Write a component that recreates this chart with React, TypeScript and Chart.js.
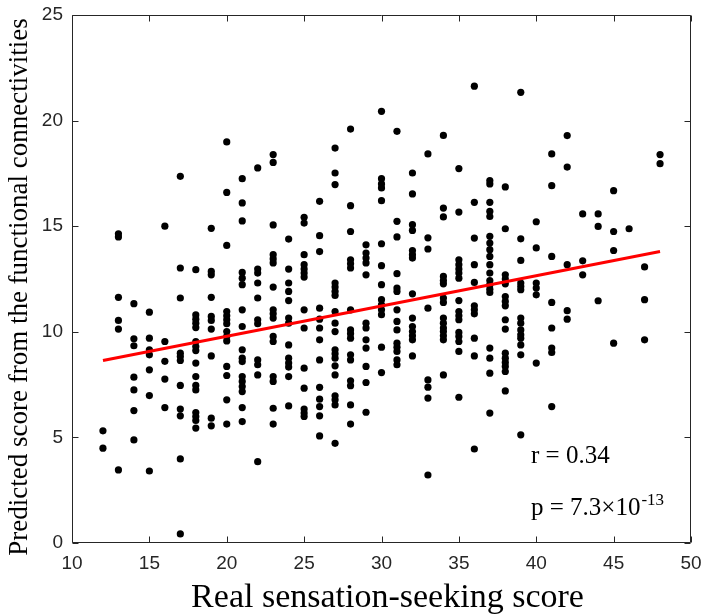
import React, { useEffect, useRef } from "react";
import { Chart, registerables } from "chart.js";

Chart.register(...registerables);

// Real sensation-seeking scores (x) and the predicted scores observed at each one (y)
const realScores = [12, 13, 14, 15, 16, 17, 18, 19, 20, 21, 22, 23, 24, 25, 26, 27, 28, 29, 30, 31, 32, 33, 34, 35, 36, 37, 38, 39, 40, 41, 42, 43, 44, 45, 46, 47, 48];
const predictedScores: number[][] = [
  [5.31, 4.49],
  [14.64, 14.49, 11.63, 10.54, 10.13, 3.46],
  [11.33, 9.67, 9.34, 7.85, 7.25, 6.27, 4.88],
  [10.93, 9.7, 9.15, 8.91, 8.2, 6.98, 3.41],
  [15.0, 9.54, 8.6, 7.76, 6.41],
  [17.36, 13.02, 11.6, 8.99, 8.83, 8.64, 7.46, 6.34, 6.02, 3.98, 0.43],
  [12.94, 10.8, 10.6, 10.41, 10.2, 9.54, 9.3, 9.11, 8.52, 7.88, 7.46, 7.25, 6.18, 5.99, 5.8, 5.44],
  [14.9, 12.86, 12.7, 11.63, 10.73, 10.54, 10.13, 8.86, 5.91, 5.55],
  [18.99, 16.6, 14.09, 10.96, 10.76, 10.57, 10.38, 10.01, 9.78, 9.57, 8.36, 7.93, 6.78, 5.63],
  [17.25, 16.1, 15.25, 12.81, 12.54, 12.23, 11.04, 10.25, 9.15, 8.75, 8.59, 7.88, 7.65, 7.41, 7.17, 6.41, 5.75],
  [17.76, 12.97, 12.78, 12.31, 11.6, 10.57, 10.38, 8.67, 8.44, 7.96, 3.85],
  [18.39, 18.02, 15.06, 13.65, 13.45, 13.26, 12.12, 11.04, 10.85, 10.65, 9.78, 9.54, 7.88, 7.65, 6.38, 5.63],
  [14.39, 12.97, 12.31, 11.91, 11.48, 10.65, 10.41, 9.38, 8.75, 8.52, 8.33, 7.88, 6.49],
  [15.42, 15.15, 13.65, 13.18, 12.97, 12.78, 12.59, 11.04, 10.18, 8.28, 7.33, 6.34, 6.15, 5.99],
  [16.18, 14.55, 13.8, 11.12, 10.6, 10.18, 9.62, 8.67, 7.37, 6.81, 6.46, 6.02, 5.07],
  [18.7, 17.52, 16.97, 12.31, 12.12, 11.91, 11.72, 10.96, 10.41, 10.01, 9.15, 8.96, 8.75, 8.39, 7.96, 6.97, 6.78, 6.54, 4.72],
  [19.6, 15.97, 14.75, 13.41, 13.22, 13.02, 11.04, 10.09, 9.91, 9.7, 8.91, 8.67, 7.68, 7.45, 6.54, 5.63],
  [14.12, 13.73, 13.49, 13.26, 12.7, 10.41, 10.18, 9.62, 9.23, 8.36, 7.6, 6.19],
  [20.44, 17.25, 17.0, 16.81, 16.21, 14.17, 13.13, 12.23, 11.52, 11.28, 11.04, 10.81, 9.27, 8.07],
  [19.49, 15.23, 14.49, 12.75, 12.07, 11.91, 11.04, 10.49, 10.09, 9.46, 9.27, 9.07, 8.67, 8.44],
  [17.52, 16.53, 15.07, 14.8, 13.85, 13.65, 13.49, 11.8, 10.65, 10.25, 10.01, 9.81, 9.62, 8.86],
  [18.42, 14.45, 13.92, 11.12, 7.72, 7.38, 6.86, 3.22],
  [19.3, 15.86, 15.44, 12.62, 12.43, 12.27, 11.6, 11.39, 10.65, 10.41, 10.18, 10.01, 9.81, 9.62, 7.96],
  [17.73, 15.67, 13.41, 13.18, 12.97, 12.78, 12.54, 11.48, 10.96, 10.76, 10.57, 9.97, 9.78, 9.54, 9.07, 6.9],
  [21.63, 16.13, 14.44, 13.18, 12.34, 11.23, 11.04, 10.85, 9.7, 8.86, 4.45],
  [17.16, 17.0, 16.13, 15.7, 15.46, 14.52, 14.2, 13.89, 13.57, 13.18, 12.78, 12.43, 12.23, 12.02, 11.86, 9.23, 8.75, 8.04, 6.15],
  [16.86, 14.88, 12.7, 12.5, 12.27, 11.67, 11.44, 11.23, 10.57, 10.13, 8.99, 8.75, 8.55, 8.36, 8.12, 7.2],
  [21.34, 14.4, 13.38, 12.31, 12.15, 11.99, 10.65, 10.41, 10.09, 9.86, 9.7, 9.38, 8.91, 5.12],
  [15.21, 13.97, 12.31, 12.07, 11.75, 8.52],
  [18.42, 16.92, 13.57, 11.39, 10.18, 9.23, 9.02, 6.46],
  [19.29, 17.8, 13.18, 11.0, 10.6],
  [15.58, 13.36, 12.7],
  [15.58, 14.99, 11.47],
  [16.68, 14.75, 13.85, 9.46],
  [14.88],
  [13.07, 11.52, 9.62],
  [18.39, 17.96],
];

// Regression line end points
const fitX = [12, 48];
const fitY = [8.64, 13.8];

// Axis ticks
const xTicks = [10, 15, 20, 25, 30, 35, 40, 45, 50];
const yTicks = [0, 5, 10, 15, 20, 25];

// Texts
const xTitle = "Real sensation-seeking score";
const yTitle = "Predicted score from the functional connectivities";
const rText = "r = 0.34";
const pText = "p = 7.3×10";
const pExponent = "-13";

const AXIS_COLOR = "#262626";

const framePlugin = {
  id: "matlabFrame",
  afterDraw(chart: any) {
    const { ctx, chartArea } = chart;
    const { left, right, top, bottom } = chartArea;
    const xs = chart.scales.x;
    const ys = chart.scales.y;
    ctx.save();
    ctx.strokeStyle = AXIS_COLOR;
    ctx.lineWidth = 1;
    const L = Math.round(left) + 0.5;
    const R = Math.round(right) - 0.5;
    const T = Math.round(top) + 0.5;
    const B = Math.round(bottom) - 0.5;
    ctx.beginPath();
    ctx.rect(L, T, R - L, B - T);
    const tl = 6;
    xTicks.forEach((t) => {
      const px = Math.round(xs.getPixelForValue(t)) + 0.5;
      ctx.moveTo(px, B);
      ctx.lineTo(px, B - tl);
      ctx.moveTo(px, T);
      ctx.lineTo(px, T + tl);
    });
    yTicks.forEach((t) => {
      const py = Math.round(ys.getPixelForValue(t)) + 0.5;
      ctx.moveTo(L, py);
      ctx.lineTo(L + tl, py);
      ctx.moveTo(R, py);
      ctx.lineTo(R - tl, py);
    });
    ctx.stroke();

    // axis titles
    ctx.fillStyle = "#000";
    ctx.textAlign = "center";
    ctx.textBaseline = "alphabetic";
    ctx.font = "34px 'Liberation Serif'";
    ctx.fillText(xTitle, (left + right) / 2 + 6, 607);

    ctx.save();
    ctx.translate(27, (top + bottom) / 2 + 8);
    ctx.rotate(-Math.PI / 2);
    ctx.font = "27px 'Liberation Serif'";
    ctx.fillText(yTitle, 0, 0);
    ctx.restore();

    // annotations
    ctx.textAlign = "left";
    ctx.font = "25px 'Liberation Serif'";
    ctx.fillText(rText, 531, 463);
    ctx.fillText(pText, 531, 515);
    const w = ctx.measureText(pText).width;
    ctx.font = "17px 'Liberation Serif'";
    ctx.fillText(pExponent, 531 + w + 1, 505);
    ctx.restore();
  },
};

export default function App() {
  const canvasRef = useRef<HTMLCanvasElement | null>(null);

  useEffect(() => {
    if (!canvasRef.current) return;
    const points: { x: number; y: number }[] = [];
    realScores.forEach((s, i) => {
      predictedScores[i].forEach((v) => points.push({ x: s, y: v }));
    });
    const fitLine = fitX.map((x, i) => ({ x, y: fitY[i] }));

    const tickFont = { family: "'Liberation Sans', Arial, sans-serif", size: 19 };

    const chart = new Chart(canvasRef.current, {
      type: "scatter",
      data: {
        datasets: [
          {
            type: "line",
            data: fitLine,
            borderColor: "#ff0000",
            borderWidth: 3,
            pointRadius: 0,
            fill: false,
          } as any,
          {
            data: points,
            backgroundColor: "#000000",
            borderWidth: 0,
            pointRadius: 3.6,
          },
        ],
      },
      options: {
        responsive: false,
        animation: false,
        devicePixelRatio: 1,
        layout: { padding: { top: 15, right: 14, left: 0, bottom: 0 } },
        plugins: { legend: { display: false }, tooltip: { enabled: false } },
        scales: {
          x: {
            type: "linear",
            min: 10,
            max: 50,
            grid: { display: false, drawTicks: false },
            border: { display: false },
            afterBuildTicks: (scale: any) => {
              scale.ticks = xTicks.map((v) => ({ value: v }));
            },
            afterFit: (scale: any) => {
              scale.height = 72;
              scale.paddingLeft = 0;
              scale.paddingRight = 0;
            },
            ticks: { color: AXIS_COLOR, font: tickFont, padding: 9, maxRotation: 0 },
          },
          y: {
            type: "linear",
            min: 0,
            max: 25,
            grid: { display: false, drawTicks: false },
            border: { display: false },
            afterBuildTicks: (scale: any) => {
              scale.ticks = yTicks.map((v) => ({ value: v }));
            },
            afterFit: (scale: any) => {
              scale.width = 72;
              scale.paddingTop = 0;
              scale.paddingBottom = 0;
            },
            ticks: { color: AXIS_COLOR, font: tickFont, padding: 9 },
          },
        },
      },
      plugins: [framePlugin],
    });
    return () => chart.destroy();
  }, []);

  return (
    <div style={{ position: "absolute", left: 0, top: 0, width: 705, height: 615, background: "#fff" }}>
      <canvas ref={canvasRef} width={705} height={615} style={{ display: "block" }} />
    </div>
  );
}
